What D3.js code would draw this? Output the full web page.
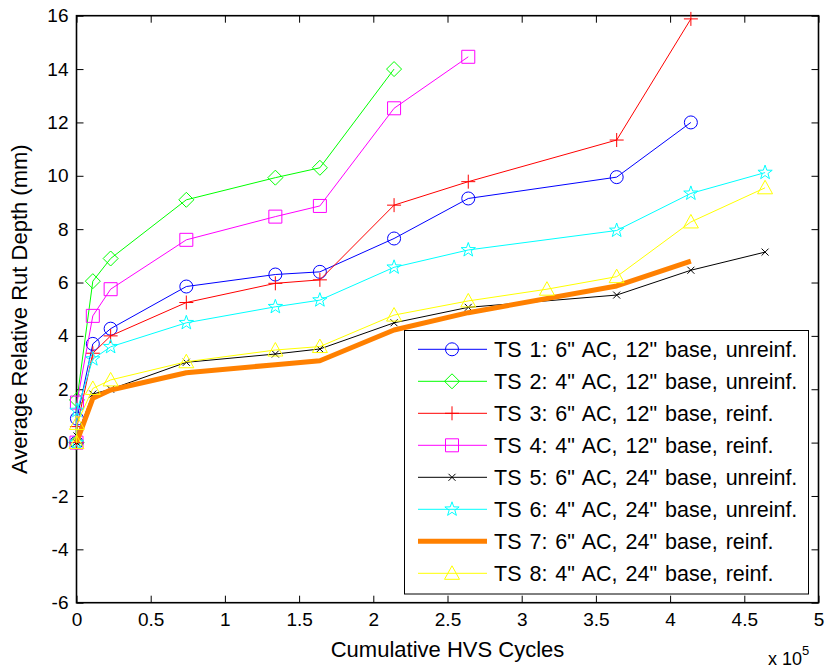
<!DOCTYPE html>
<html>
<head>
<meta charset="utf-8">
<script src="https://cdn.jsdelivr.net/npm/d3@7"></script>
<style>
  body { margin: 0; background: #fff; }
  text { font-family: "Liberation Sans", Arial, sans-serif; fill: #000; }
</style>
</head>
<body>
<div id="chart"></div>
<script>
// cycles in units of 1e5, rut depth in mm
const xTicks = [0, 0.5, 1, 1.5, 2, 2.5, 3, 3.5, 4, 4.5, 5];
const yTicks = [-6, -4, -2, 0, 2, 4, 6, 8, 10, 12, 14, 16];

const ts1x = [0, 0.003, 0.11, 0.23, 0.74, 1.34, 1.64, 2.14, 2.64, 3.64, 4.14];
const ts1y = [0, 0.9, 3.7, 4.27, 5.85, 6.3, 6.4, 7.65, 9.15, 9.95, 12.0];

const ts2x = [0, 0.003, 0.11, 0.23, 0.74, 1.34, 1.64, 2.14];
const ts2y = [0, 1.6, 6.05, 6.9, 9.1, 9.93, 10.3, 14.0];

const ts3x = [0, 0.003, 0.11, 0.23, 0.74, 1.34, 1.64, 2.14, 2.64, 3.64, 4.14];
const ts3y = [0, 0.6, 3.35, 4.0, 5.25, 5.97, 6.1, 8.9, 9.78, 11.34, 15.88];

const ts4x = [0, 0.003, 0.11, 0.23, 0.74, 1.34, 1.64, 2.14, 2.64];
const ts4y = [0, 1.5, 4.75, 5.75, 7.6, 8.47, 8.87, 12.53, 14.46];

const ts5x = [0, 0.003, 0.11, 0.23, 0.74, 1.34, 1.64, 2.14, 2.64, 3.64, 4.14, 4.64];
const ts5y = [0, 0.25, 1.82, 2.0, 3.01, 3.32, 3.51, 4.49, 5.07, 5.53, 6.46, 7.14];

const ts6x = [0, 0.003, 0.11, 0.23, 0.74, 1.34, 1.64, 2.14, 2.64, 3.64, 4.14, 4.64];
const ts6y = [0, 1.2, 3.13, 3.59, 4.49, 5.09, 5.34, 6.57, 7.22, 7.95, 9.34, 10.12];

const ts7x = [0, 0.11, 0.23, 0.74, 1.34, 1.64, 2.14, 2.64, 3.64, 4.14];
const ts7y = [0, 1.66, 1.97, 2.62, 2.92, 3.07, 4.22, 4.87, 5.87, 6.8];

const ts8x = [0, 0.003, 0.11, 0.23, 0.74, 1.34, 1.64, 2.14, 2.64, 3.17, 3.64, 4.14, 4.64];
const ts8y = [0, 0.72, 2.03, 2.35, 3.03, 3.47, 3.6, 4.78, 5.31, 5.75, 6.22, 8.27, 9.55];

const names = [
  'TS 1: 6" AC, 12" base, unreinf.',
  'TS 2: 4" AC, 12" base, unreinf.',
  'TS 3: 6" AC, 12" base, reinf.',
  'TS 4: 4" AC, 12" base, reinf.',
  'TS 5: 6" AC, 24" base, unreinf.',
  'TS 6: 4" AC, 24" base, unreinf.',
  'TS 7: 6" AC, 24" base, reinf.',
  'TS 8: 4" AC, 24" base, reinf.'
];

const series = [
  { name: names[0], xs: ts1x, ys: ts1y, color: "#0000ff", marker: "circle", width: 1 },
  { name: names[1], xs: ts2x, ys: ts2y, color: "#00ff00", marker: "diamond", width: 1 },
  { name: names[2], xs: ts3x, ys: ts3y, color: "#ff0000", marker: "plus", width: 1 },
  { name: names[3], xs: ts4x, ys: ts4y, color: "#ff00ff", marker: "square", width: 1 },
  { name: names[4], xs: ts5x, ys: ts5y, color: "#000000", marker: "cross", width: 1 },
  { name: names[5], xs: ts6x, ys: ts6y, color: "#00ffff", marker: "star", width: 1 },
  { name: names[6], xs: ts7x, ys: ts7y, color: "#ff8000", marker: "none", width: 5 },
  { name: names[7], xs: ts8x, ys: ts8y, color: "#ffff00", marker: "triangle", width: 1 }
];

const W = 828, H = 670;
const pLeft = 76.5, pRight = 818.5, pTop = 15.7, pBottom = 602.7;

const svg = d3.select("#chart").append("svg")
    .attr("width", W)
    .attr("height", H);

const x = d3.scaleLinear().domain([0, 5]).range([pLeft, pRight]);
const y = d3.scaleLinear().domain([-6, 16]).range([pBottom, pTop]);

// plain hyphen minus like the original figure
const fmt = d => String(d);

// marker shapes
function markerPath(type) {
  const p = d3.path();
  if (type === "circle") {
    p.moveTo(6.5, 0); p.arc(0, 0, 6.5, 0, 2 * Math.PI);
  } else if (type === "diamond") {
    p.moveTo(0, -7.5); p.lineTo(7.5, 0); p.lineTo(0, 7.5); p.lineTo(-7.5, 0); p.closePath();
  } else if (type === "plus") {
    p.moveTo(-7, 0); p.lineTo(7, 0); p.moveTo(0, -7); p.lineTo(0, 7);
  } else if (type === "square") {
    p.rect(-6.5, -6.5, 13, 13);
  } else if (type === "cross") {
    p.moveTo(-3.5, -3.5); p.lineTo(3.5, 3.5); p.moveTo(-3.5, 3.5); p.lineTo(3.5, -3.5);
  } else if (type === "star") {
    for (let i = 0; i < 10; i++) {
      const r = i % 2 === 0 ? 7.5 : 3;
      const a = -Math.PI / 2 + i * Math.PI / 5;
      if (i === 0) p.moveTo(r * Math.cos(a), r * Math.sin(a));
      else p.lineTo(r * Math.cos(a), r * Math.sin(a));
    }
    p.closePath();
  } else if (type === "triangle") {
    p.moveTo(0, -7.5); p.lineTo(7.5, 6); p.lineTo(-7.5, 6); p.closePath();
  }
  return p.toString();
}

// axes with inward ticks
svg.append("g")
    .attr("transform", `translate(0,${pBottom})`)
    .call(d3.axisBottom(x).tickValues(xTicks).tickSize(-7).tickSizeOuter(0).tickPadding(10)
      .tickFormat(fmt))
    .call(g => g.select(".domain").remove())
    .call(g => g.selectAll("text").attr("font-size", 19).attr("dy", "0.71em"));

svg.append("g")
    .attr("transform", `translate(0,${pTop})`)
    .call(d3.axisTop(x).tickValues(xTicks).tickSize(-7).tickSizeOuter(0).tickFormat(""))
    .call(g => g.select(".domain").remove());

svg.append("g")
    .attr("transform", `translate(${pLeft},0)`)
    .call(d3.axisLeft(y).tickValues(yTicks).tickSize(-7).tickSizeOuter(0).tickPadding(8)
      .tickFormat(fmt))
    .call(g => g.select(".domain").remove())
    .call(g => g.selectAll("text").attr("font-size", 19));

svg.append("g")
    .attr("transform", `translate(${pRight},0)`)
    .call(d3.axisRight(y).tickValues(yTicks).tickSize(-7).tickSizeOuter(0).tickFormat(""))
    .call(g => g.select(".domain").remove());

svg.selectAll(".tick line").attr("stroke", "#000").attr("stroke-width", 1);
svg.selectAll(".tick text").style("font-family", '"Liberation Sans", Arial, sans-serif');

svg.append("rect")
    .attr("x", pLeft)
    .attr("y", pTop)
    .attr("width", pRight - pLeft)
    .attr("height", pBottom - pTop)
    .attr("fill", "none")
    .attr("stroke", "#000")
    .attr("stroke-width", 1.6);

// series
const line = d3.line().x(d => x(d[0])).y(d => y(d[1]));

series.forEach(s => {
  const pts = s.xs.map((v, i) => [v, s.ys[i]]);
  const g = svg.append("g");
  g.append("path")
      .attr("d", line(pts))
      .attr("fill", "none")
      .attr("stroke", s.color)
      .attr("stroke-width", s.width)
      .attr("stroke-linejoin", "round");
  if (s.marker !== "none") {
    g.selectAll("path.mk")
      .data(pts)
      .join("path")
        .attr("class", "mk")
        .attr("d", markerPath(s.marker))
        .attr("transform", d => `translate(${x(d[0])},${y(d[1])})`)
        .attr("fill", "none")
        .attr("stroke", s.color)
        .attr("stroke-width", 1);
  }
});

// legend
const legend = svg.append("g");
legend.append("rect")
    .attr("x", 404.5)
    .attr("y", 330.5)
    .attr("width", 404)
    .attr("height", 263.5)
    .attr("fill", "#fff")
    .attr("stroke", "#000")
    .attr("stroke-width", 1);

series.forEach((s, i) => {
  const ly = 349.3 + i * 32;
  legend.append("line")
      .attr("x1", 418).attr("x2", 487)
      .attr("y1", ly).attr("y2", ly)
      .attr("stroke", s.color)
      .attr("stroke-width", s.width);
  if (s.marker !== "none") {
    legend.append("path")
        .attr("d", markerPath(s.marker))
        .attr("transform", `translate(452,${ly})`)
        .attr("fill", "none")
        .attr("stroke", s.color);
  }
  legend.append("text")
      .attr("x", 494)
      .attr("y", ly)
      .attr("dy", "0.36em")
      .attr("font-size", 21.5)
      .style("word-spacing", "2px")
      .text(s.name);
});

// axis labels
svg.append("text")
    .attr("x", (pLeft + pRight) / 2)
    .attr("y", 657)
    .attr("text-anchor", "middle")
    .attr("font-size", 22)
    .text("Cumulative HVS Cycles");

svg.append("text")
    .attr("transform", `translate(27,${(pTop + pBottom) / 2}) rotate(-90)`)
    .attr("text-anchor", "middle")
    .attr("font-size", 22)
    .text("Average Relative Rut Depth (mm)");

const expo = svg.append("text")
    .attr("x", 768)
    .attr("y", 665)
    .attr("font-size", 18);
expo.append("tspan").text("x 10");
expo.append("tspan").attr("dy", -10).attr("font-size", 13).text("5");
</script>
</body>
</html>
